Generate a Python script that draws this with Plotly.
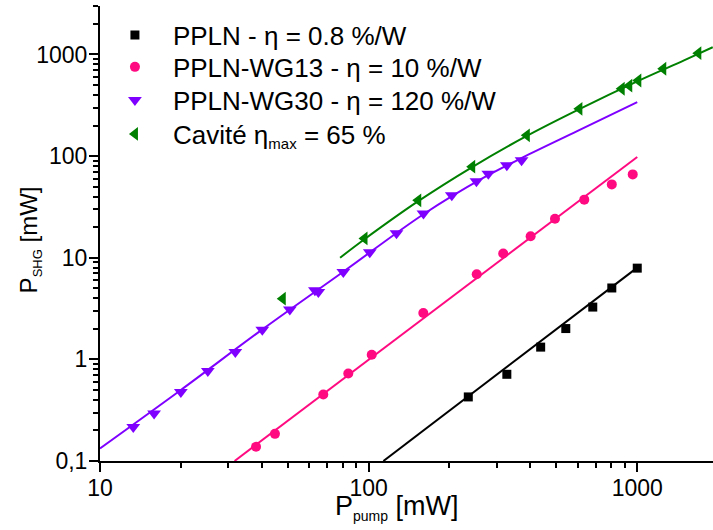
import plotly.graph_objects as go

# ---- data ----
pump_ppln = [235, 327, 437, 542, 683, 804, 1000]
shg_ppln = [0.427, 0.713, 1.32, 2.01, 3.27, 5.04, 7.9]

pump_wg13 = [38.1, 44.8, 67.8, 84.0, 102.7, 159.8, 252.6, 317, 401, 494, 635, 804, 962]
shg_wg13 = [0.138, 0.185, 0.451, 0.725, 1.11, 2.86, 6.87, 11.0, 16.3, 24.2, 37.3, 52.7, 66.1]

pump_wg30 = [13.3, 15.9, 20.0, 25.2, 31.9, 40.2, 50.9, 63.1, 65.0, 80.5, 101, 127, 160, 204, 252, 279, 327, 371]
shg_wg30 = [0.216, 0.293, 0.478, 0.769, 1.18, 1.96, 3.09, 4.8, 4.6, 7.23, 11.3, 17.4, 27.2, 41.1, 56.6, 67.2, 81.3, 90.8]

pump_cav = [47.9, 96.5, 153, 243, 388, 609, 875, 934, 1009, 1250, 1688]
shg_cav = [3.96, 15.5, 36.7, 78.7, 160, 292, 460, 493, 555, 724, 1031]

fit_ppln_x = [113.5, 1000]
fit_ppln_y = [0.1, 8.0]
fit_wg13_x = [31.7, 1000]
fit_wg13_y = [0.1, 98]
fit_wg30_x = [10, 20, 40, 80, 160, 267, 375, 600, 1000]
fit_wg30_y = [0.133, 0.5, 1.95, 7.2, 26.8, 61, 97, 177, 340]
fit_cav_x = [78.3, 96.5, 153, 243, 388, 609, 1009, 1500, 1910]
fit_cav_y = [10.0, 15.2, 36.0, 78, 158, 290, 550, 880, 1180]

names = ["PPLN - η = 0.8 %/W", "PPLN-WG13 - η = 10 %/W", "PPLN-WG30 - η = 120 %/W",
         "Cavité η<sub><span style='font-size:15px'>max</span></sub> = 65 %"]
colors = ["#000000", "#ff0a80", "#7f00ff", "#008000"]

y_tickvals = [0.1, 1, 10, 100, 1000]
y_ticktext = ["0,1", "1", "10", "100", "1000"]
x_tickvals = [10, 100, 1000]
x_ticktext = ["10", "100", "1000"]

FONT = "Liberation Sans, Arial, sans-serif"

fig = go.Figure()

# fit lines
fits = [(fit_ppln_x, fit_ppln_y, "linear"), (fit_wg13_x, fit_wg13_y, "linear"),
        (fit_wg30_x, fit_wg30_y, "spline"), (fit_cav_x, fit_cav_y, "spline")]
for (fx, fy, shp), c in zip(fits, colors):
    fig.add_trace(go.Scatter(x=fx, y=fy, mode="lines", line=dict(color=c, width=2, shape=shp),
                             showlegend=False, hoverinfo="skip"))

# data points, each with its own legend row
legend_ids = ["legend", "legend2", "legend3", "legend4"]
pts = [(pump_ppln, shg_ppln, "square", 9), (pump_wg13, shg_wg13, "circle", 10),
       (pump_wg30, shg_wg30, "triangle-down", 12), (pump_cav, shg_cav, "triangle-left", 12)]
for (px, py, sym, sz), c, n, lg in zip(pts, colors, names, legend_ids):
    fig.add_trace(go.Scatter(x=px, y=py, mode="markers", name=n, legend=lg,
                             marker=dict(symbol=sym, size=sz, color=c, line=dict(width=0))))

axis_common = dict(type="log", showline=True, linecolor="black", linewidth=2,
                   ticks="outside", ticklen=9, tickwidth=2, tickcolor="black",
                   showgrid=False, zeroline=False, mirror=False,
                   tickfont=dict(size=23, color="black", family=FONT),
                   minor=dict(ticks="outside", ticklen=5, tickwidth=1.5, tickcolor="black",
                              dtick="D1", showgrid=False))

legend_style = dict(x=-0.005, xanchor="left", yanchor="middle", bgcolor="rgba(0,0,0,0)",
                    font=dict(size=26, color="black", family=FONT), itemwidth=66)
legend_rows_y = [0.9363, 0.866, 0.7934, 0.7187]

fig.update_layout(
    width=713, height=530,
    margin=dict(l=100, r=0, t=6, b=69, autoexpand=False),
    paper_bgcolor="white", plot_bgcolor="white",
    font=dict(family=FONT, color="black"),
    xaxis=dict(range=[1, 3.282], tickmode="array", tickvals=x_tickvals, ticktext=x_ticktext,
               ticklabelstandoff=-4, **axis_common),
    yaxis=dict(range=[-1, 3.477], tickmode="array", tickvals=y_tickvals, ticktext=y_ticktext,
               ticklabelstandoff=-3, **axis_common),
    annotations=[
        dict(text="P<sub><span style='font-size:14px'>pump</span></sub> [mW]",
             xref="paper", yref="paper", x=0.4837, y=-0.103, xanchor="center", yanchor="middle",
             showarrow=False, font=dict(size=27, color="black", family=FONT)),
        dict(text="P<sub><span style='font-size:13px'>SHG</span></sub> [mW]",
             xref="paper", yref="paper", x=-0.115, y=0.486, xanchor="center", yanchor="middle",
             textangle=-90, showarrow=False, font=dict(size=24, color="black", family=FONT)),
    ],
)
for lg, ly in zip(legend_ids, legend_rows_y):
    fig.update_layout({lg: dict(y=ly, **legend_style)})

fig.write_html("out.html", config={"displayModeBar": False},
               post_script="document.body.style.margin='0px';document.body.style.padding='0px';")
